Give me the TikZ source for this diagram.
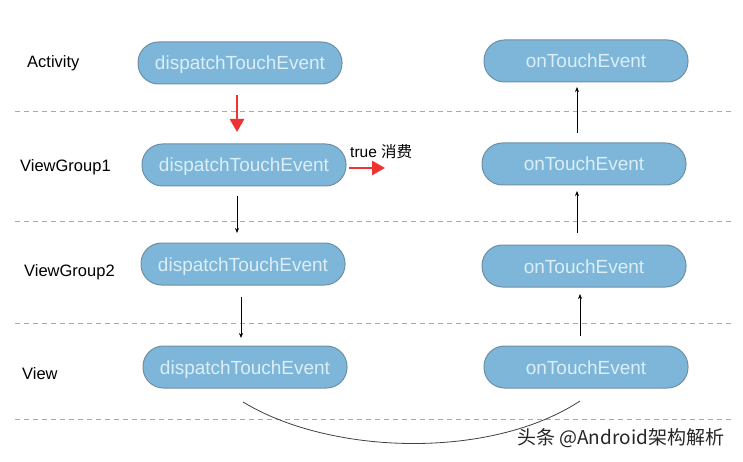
\documentclass[tikz,border=0pt]{standalone}
\usepackage{fontspec}
\setmainfont{Liberation Sans}
\newfontfamily\cjk{Noto Sans CJK SC}
\usetikzlibrary{arrows.meta}
\definecolor{boxfill}{HTML}{7DB6D8}
\definecolor{boxline}{HTML}{6F8FA6}
\definecolor{boxtext}{HTML}{DCEEF8}
\definecolor{dashgray}{HTML}{AAAAAA}
\definecolor{redarrow}{HTML}{EE3333}
\tikzset{
  evbox/.style={draw=boxline, line width=1pt, fill=boxfill, rounded corners=20.5pt,
    minimum width=204pt, minimum height=42pt, inner sep=0pt,
    text=boxtext, font=\fontsize{19}{21}\selectfont, text height=15pt, text depth=1pt},
  layer/.style={anchor=west, inner sep=0pt, font=\fontsize{16.5}{18}\selectfont, text=black},
  sep/.style={draw=dashgray, dash pattern=on 5pt off 4pt, line width=0.8pt},
  blk/.style={-{Stealth[length=5pt,width=4pt]}, line width=0.7pt, black},
  redarr/.style={-{Triangle[length=13pt,width=14pt]}, line width=2.6pt, redarrow},
}
\begin{document}
\begin{tikzpicture}[x=1pt,y=-1pt]
\useasboundingbox (0,0) rectangle (743,462);
\fill[white] (0,0) rectangle (743,462);
% separators
\foreach \yy/\nm in {111/s1,221/s2,323/s3,419/s4}{
  \coordinate (\nm a) at (15,\yy); \coordinate (\nm b) at (735,\yy);
  \draw[sep] (\nm a) -- (\nm b);
}
% layer labels
\node[layer] (lA) at (27,63) {Activity};
\node[layer] (lG1) at (20,167) {ViewGroup1};
\node[layer] (lG2) at (24,272) {ViewGroup2};
\node[layer] (lV) at (22,374) {View};
% left boxes
\node[evbox] (d1) at (240,63) {dispatchTouchEvent};
\node[evbox] (d2) at (244,165) {dispatchTouchEvent};
\node[evbox] (d3) at (243,264) {dispatchTouchEvent};
\node[evbox] (d4) at (245,367) {dispatchTouchEvent};
% right boxes
\node[evbox] (o1) at (586,61) {onTouchEvent};
\node[evbox] (o2) at (584,164) {onTouchEvent};
\node[evbox] (o3) at (584,266) {onTouchEvent};
\node[evbox] (o4) at (586,367) {onTouchEvent};
% arrows left
\coordinate (r1s) at (237,95); \coordinate (r1e) at (237,132);
\draw[redarr] (r1s) -- (r1e);
\coordinate (b1s) at (237,196); \coordinate (b1e) at (237,233);
\draw[blk] (b1s) -- (b1e);
\coordinate (b2s) at (241,297); \coordinate (b2e) at (241,338);
\draw[blk] (b2s) -- (b2e);
% consumed arrow
\coordinate (r2s) at (349,168); \coordinate (r2e) at (385,168);
\draw[redarr] (r2s) -- (r2e);
\node[anchor=west, inner sep=0pt, font=\fontsize{15.5}{17}\selectfont] (tc) at (350,152) {true {\cjk 消费}};
% arrows right
\coordinate (u1s) at (577,133); \coordinate (u1e) at (577,87);
\draw[blk] (u1s) -- (u1e);
\coordinate (u2s) at (577,233); \coordinate (u2e) at (577,191);
\draw[blk] (u2s) -- (u2e);
\coordinate (u3s) at (580,336); \coordinate (u3e) at (580,294);
\draw[blk] (u3s) -- (u3e);
% arc
\coordinate (as) at (243,402); \coordinate (ae) at (580,401);
\draw[line width=0.8pt, black!75] (as) .. controls (330,455) and (490,460) .. (ae);
% watermark
\node[anchor=west, inner sep=0pt, font=\cjk\fontsize{19}{21}\selectfont, text=black!85] (wm) at (517,438) {头条 @Android架构解析};
\end{tikzpicture}
\end{document}
